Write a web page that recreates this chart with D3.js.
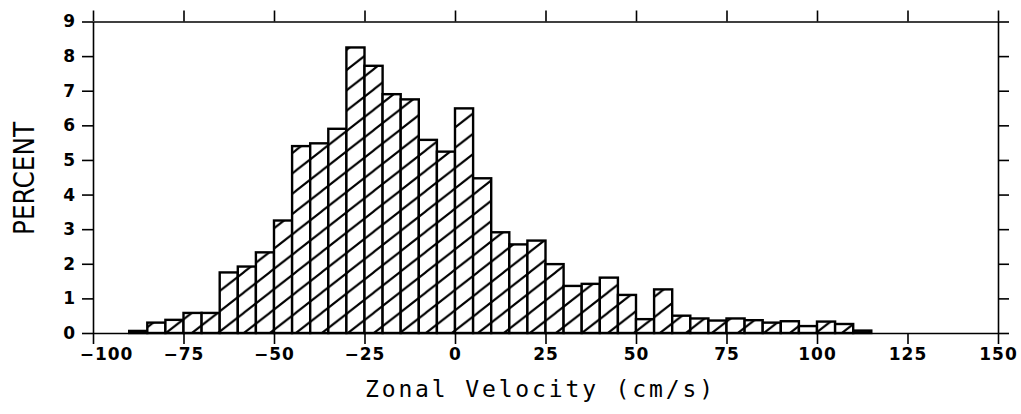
<!DOCTYPE html>
<html>
<head>
<meta charset="utf-8">
<script src="https://cdn.jsdelivr.net/npm/d3@7"></script>
<style>
  html, body { margin: 0; padding: 0; background: #fff; }
  svg { display: block; }
</style>
</head>
<body>
<svg id="chart" width="1021" height="414"></svg>
<script>
// ---- data ----
const binStarts = [-90, -85, -80, -75, -70, -65, -60, -55, -50, -45, -40, -35, -30, -25, -20, -15, -10, -5,
                   0, 5, 10, 15, 20, 25, 30, 35, 40, 45, 50, 55, 60, 65, 70, 75, 80, 85, 90, 95, 100, 105, 110];
const percents = [0.06, 0.3, 0.38, 0.58, 0.58, 1.75, 1.92, 2.33, 3.25, 5.4, 5.48, 5.9, 8.25, 7.72, 6.9, 6.75, 5.58, 5.24,
                  6.49, 4.47, 2.91, 2.56, 2.67, 1.99, 1.36, 1.42, 1.6, 1.1, 0.4, 1.26, 0.5, 0.42, 0.36, 0.42, 0.37, 0.3, 0.34, 0.2, 0.33, 0.26, 0.07];
const binWidth = 5;
const xTicks = [-100, -75, -50, -25, 0, 25, 50, 75, 100, 125, 150];
const yTicks = [0, 1, 2, 3, 4, 5, 6, 7, 8, 9];
const xTitle = "Zonal Velocity (cm/s)";
const yTitle = "PERCENT";

(function () {
// ---- layout ----
const svg = d3.select("#chart");
const mLeft = 93, mRight = 998, mTop = 21.5, mBottom = 333;
const x = d3.scaleLinear().domain([-100, 150]).range([mLeft, mRight]);
const y = d3.scaleLinear().domain([0, 9]).range([mBottom, mTop]);

// hatch pattern: diagonal lines rising to the right
const hx = 26, ang = 38 * Math.PI / 180, hy = hx * Math.tan(ang);
const defs = svg.append("defs");
const pat = defs.append("pattern")
  .attr("id", "hatch")
  .attr("patternUnits", "userSpaceOnUse")
  .attr("x", 166).attr("y", mBottom - hy)
  .attr("width", hx).attr("height", hy);
pat.append("rect").attr("width", hx).attr("height", hy).attr("fill", "#fff");
[-1, 0, 1].forEach(m => {
  pat.append("line")
    .attr("x1", -hx).attr("y1", 2 * hy + m * hy)
    .attr("x2", 2 * hx).attr("y2", -hy + m * hy)
    .attr("stroke", "#000").attr("stroke-width", 2.1);
});

// bars
svg.append("g").selectAll("rect")
  .data(binStarts.map((s, i) => ({ s, v: percents[i] })))
  .join("rect")
  .attr("x", d => x(d.s))
  .attr("y", d => y(d.v))
  .attr("width", d => x(d.s + binWidth) - x(d.s))
  .attr("height", d => y(0) - y(d.v))
  .attr("fill", "url(#hatch)")
  .attr("stroke", "#000")
  .attr("stroke-width", 2.4);

// axes
const tickLen = 11;
const fontTick = "'DejaVu Sans', sans-serif";
function styleAxis(g) {
  g.attr("font-size", null).attr("font-family", null);
  g.select(".domain").attr("stroke", "#000").attr("stroke-width", 1.6);
  g.selectAll(".tick line").attr("stroke", "#000").attr("stroke-width", 1.6);
  g.selectAll("text").attr("fill", "#000").style("font-family", fontTick)
    .style("font-size", "17px").style("font-weight", "bold").style("letter-spacing", "1px");
}
svg.append("g").attr("transform", `translate(0,${mBottom})`)
  .call(d3.axisBottom(x).tickValues(xTicks).tickSize(tickLen).tickSizeOuter(0).tickPadding(4))
  .call(styleAxis)
  .call(g => g.selectAll("text").attr("dx", (d, i) => i === 0 ? 13 : 0));
svg.append("g").attr("transform", `translate(0,${mTop})`)
  .call(d3.axisTop(x).tickValues(xTicks).tickSize(tickLen).tickSizeOuter(0).tickFormat(""))
  .call(styleAxis);
svg.append("g").attr("transform", `translate(${mLeft},0)`)
  .call(d3.axisLeft(y).tickValues(yTicks).tickSize(tickLen).tickSizeOuter(0).tickPadding(6))
  .call(styleAxis);
svg.append("g").attr("transform", `translate(${mRight},0)`)
  .call(d3.axisRight(y).tickValues(yTicks).tickSize(tickLen).tickSizeOuter(0).tickFormat(""))
  .call(styleAxis);

// titles
svg.append("text")
  .attr("x", 539).attr("y", 397)
  .attr("text-anchor", "middle")
  .attr("textLength", 348).attr("lengthAdjust", "spacing")
  .style("font-family", "'DejaVu Sans Mono', monospace")
  .style("font-size", "23px")
  .attr("fill", "#000")
  .text(xTitle);

svg.append("text")
  .attr("transform", "translate(34,178.5) rotate(-90)")
  .attr("text-anchor", "middle")
  .attr("textLength", 113).attr("lengthAdjust", "spacingAndGlyphs")
  .style("font-family", "'DejaVu Sans', sans-serif")
  .style("font-size", "29px")
  .attr("fill", "#000")
  .text(yTitle);
})();
</script>
</body>
</html>
